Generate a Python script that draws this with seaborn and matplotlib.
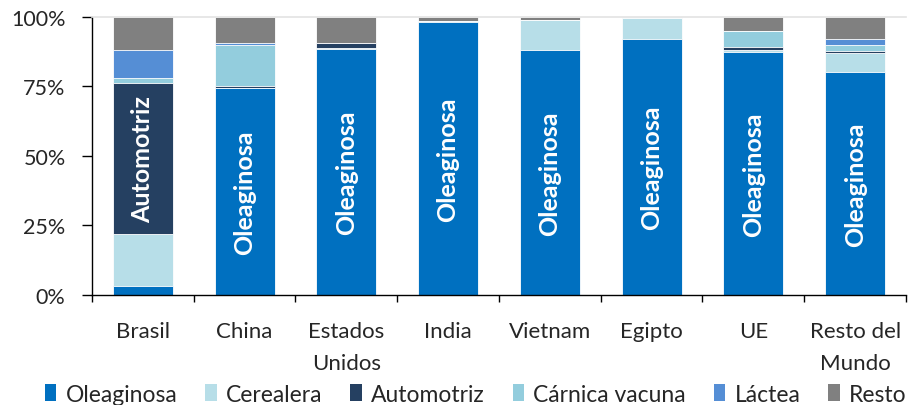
import numpy as np
import pandas as pd
import matplotlib
matplotlib.use("Agg")
import matplotlib.pyplot as plt
from matplotlib.patches import Patch
from matplotlib.ticker import FixedLocator, PercentFormatter
import seaborn as sns

# datos (% del total por país)
paises = ["Brasil", "China", "Estados\nUnidos", "India", "Vietnam", "Egipto", "UE", "Resto del\nMundo"]
oleaginosa = [3.2, 74.3, 88.5, 98.1, 87.9, 92.1, 87.3, 80.1]
cerealera = [18.6, 0.0, 0.4, 0.5, 10.8, 7.4, 0.6, 6.9]
automotriz = [54.4, 0.7, 1.8, 0.0, 0.0, 0.0, 1.4, 0.7]
carnica = [1.7, 15.0, 0.0, 0.0, 0.0, 0.5, 5.7, 2.3]
lactea = [10.1, 0.7, 0.0, 0.0, 0.0, 0.0, 0.0, 2.2]
resto = [12.0, 9.3, 9.3, 1.4, 1.3, 0.0, 5.0, 7.8]

series = ["Oleaginosa", "Cerealera", "Automotriz", "Cárnica vacuna", "Láctea", "Resto"]
valores = [oleaginosa, cerealera, automotriz, carnica, lactea, resto]
colores = ["#0070C0", "#B7DEE8", "#254061", "#93CDDD", "#558ED5", "#808080"]

sns.set_style("white")
plt.rcParams["font.family"] = ["Lato", "DejaVu Sans"]

df = pd.DataFrame(dict(zip(series, valores)), index=paises)
acum = df.cumsum(axis=1)

fig, ax = plt.subplots(figsize=(9.08, 4.06), dpi=100)
fig.subplots_adjust(left=0.1013, right=0.9978, bottom=0.272, top=0.956)

# barras apiladas: de la acumulada mayor a la menor
for serie, color in reversed(list(zip(series, colores))):
    sns.barplot(x=paises, y=acum[serie].values, color=color, width=0.59,
                edgecolor="white", linewidth=0.6, saturation=1, ax=ax)

# etiquetas dentro de las barras
for i, pais in enumerate(paises):
    if pais == "Brasil":
        serie = "Automotriz"
    else:
        serie = "Oleaginosa"
    base = acum[serie].iloc[i] - df[serie].iloc[i]
    ax.text(i, base + df[serie].iloc[i] / 2, serie, rotation=90, ha="center", va="center",
            color="white", fontsize=18, fontweight="bold")

ax.set_xlim(-0.5, len(paises) - 0.5)
ax.set_ylim(0, 100)
ax.yaxis.set_major_locator(FixedLocator([0, 25, 50, 75, 100]))
ax.yaxis.set_major_formatter(PercentFormatter(decimals=0))
ax.xaxis.set_minor_locator(FixedLocator(np.arange(-0.5, len(paises), 1)))

ax.tick_params(axis="y", which="major", direction="out", length=7, width=1, color="black",
               labelsize=15.5, pad=12, left=True)
ax.tick_params(axis="x", which="major", length=0, labelsize=16, pad=19)
ax.tick_params(axis="x", which="minor", direction="out", length=5, width=1, color="black", bottom=True)
for lbl in ax.get_xticklabels():
    lbl.set_linespacing(1.75)
    lbl.set_va("top")

for s in ["left", "bottom"]:
    ax.spines[s].set_color("black")
    ax.spines[s].set_linewidth(1)
ax.spines["top"].set_color("#E3E3E3")
ax.spines["top"].set_linewidth(1.2)
ax.spines["right"].set_visible(False)
ax.set_xlabel("")
ax.set_ylabel("")

handles = [Patch(facecolor=c, edgecolor="none", label=s) for s, c in zip(series, colores)]
fig.legend(handles=handles, loc="center", bbox_to_anchor=(0.524, 0.027), ncol=6, frameon=False,
           fontsize=16.5, handlelength=0.5, handleheight=0.75, handletextpad=0.4, columnspacing=1.22,
           borderaxespad=0)

fig.savefig("out.png", dpi=100)
plt.close(fig)
